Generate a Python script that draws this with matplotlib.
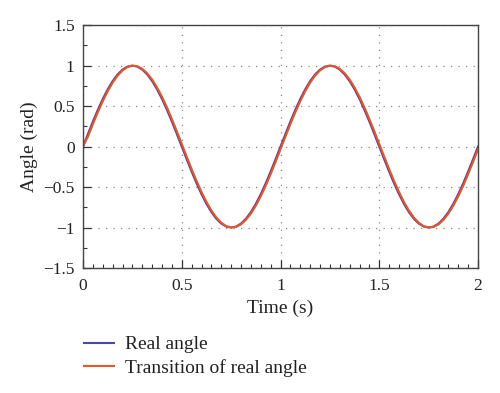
import matplotlib
matplotlib.use("Agg")
import matplotlib.pyplot as plt
from matplotlib.ticker import MultipleLocator

# time axis, read every 0.025 s
time_s = [i * 0.025 for i in range(81)]

real_angle = [
    0.000, 0.156, 0.309, 0.454, 0.588, 0.707, 0.809, 0.891, 0.951, 0.988,
    1.000, 0.988, 0.951, 0.891, 0.809, 0.707, 0.588, 0.454, 0.309, 0.156,
    0.000, -0.156, -0.309, -0.454, -0.588, -0.707, -0.809, -0.891, -0.951, -0.988,
    -1.000, -0.988, -0.951, -0.891, -0.809, -0.707, -0.588, -0.454, -0.309, -0.156,
    0.000, 0.156, 0.309, 0.454, 0.588, 0.707, 0.809, 0.891, 0.951, 0.988,
    1.000, 0.988, 0.951, 0.891, 0.809, 0.707, 0.588, 0.454, 0.309, 0.156,
    0.000, -0.156, -0.309, -0.454, -0.588, -0.707, -0.809, -0.891, -0.951, -0.988,
    -1.000, -0.988, -0.951, -0.891, -0.809, -0.707, -0.588, -0.454, -0.309, -0.156,
    0.000,
]

transition_angle = [
    0.000, 0.122, 0.276, 0.423, 0.559, 0.682, 0.788, 0.875, 0.940, 0.982,
    0.999, 0.993, 0.961, 0.906, 0.829, 0.731, 0.616, 0.485, 0.342, 0.191,
    0.035, -0.122, -0.276, -0.423, -0.559, -0.682, -0.788, -0.875, -0.940, -0.982,
    -0.999, -0.993, -0.961, -0.906, -0.829, -0.731, -0.616, -0.485, -0.342, -0.191,
    -0.035, 0.122, 0.276, 0.423, 0.559, 0.682, 0.788, 0.875, 0.940, 0.982,
    0.999, 0.993, 0.961, 0.906, 0.829, 0.731, 0.616, 0.485, 0.342, 0.191,
    0.035, -0.122, -0.276, -0.423, -0.559, -0.682, -0.788, -0.875, -0.940, -0.982,
    -0.999, -0.993, -0.961, -0.906, -0.829, -0.731, -0.616, -0.485, -0.342, -0.191,
    -0.035,
]

x_ticks = [0, 0.5, 1, 1.5, 2]
x_tick_labels = ["0", "0.5", "1", "1.5", "2"]
y_ticks = [-1.5, -1, -0.5, 0, 0.5, 1, 1.5]
y_tick_labels = ["\u22121.5", "\u22121", "\u22120.5", "0", "0.5", "1", "1.5"]

plt.rcParams["font.family"] = ["Liberation Serif", "DejaVu Serif"]

fig = plt.figure(figsize=(5.0, 3.93), dpi=100)
ax = fig.add_axes([0.166, 0.318, 0.790, 0.618])

ax.plot(time_s, real_angle, color="#4b4aa6", lw=1.5, label="Real angle")
ax.plot(time_s, transition_angle, color="#e8562c", lw=1.5,
        label="Transition of real angle")

ax.set_xlim(0, 2)
ax.set_ylim(-1.5, 1.5)
ax.set_xticks(x_ticks, x_tick_labels)
ax.set_yticks(y_ticks, y_tick_labels)
ax.xaxis.set_minor_locator(MultipleLocator(0.05))
ax.yaxis.set_minor_locator(MultipleLocator(0.25))

ax.tick_params(which="both", direction="in", colors="#333333",
               labelcolor="#222222", labelsize=12.5)
ax.tick_params(which="major", length=6, width=0.9)
ax.tick_params(which="minor", length=3, width=0.8)
ax.tick_params(axis="x", pad=7)
ax.tick_params(axis="y", pad=6)

for sp in ax.spines.values():
    sp.set_color("#444444")
    sp.set_linewidth(1.0)

ax.grid(True, which="major", color="#888888", linestyle=(0, (1, 5)), lw=0.9)

ax.set_xlabel("Time (s)", fontsize=14, color="#222222", labelpad=4)
ax.set_ylabel("Angle (rad)", fontsize=14, color="#222222", labelpad=4)

fig.legend(loc="upper left", bbox_to_anchor=(0.132, 0.19), frameon=False,
           fontsize=14, handlelength=1.55, handletextpad=0.6, labelspacing=0.3,
           labelcolor="#222222")

fig.savefig("out.png", dpi=100)
